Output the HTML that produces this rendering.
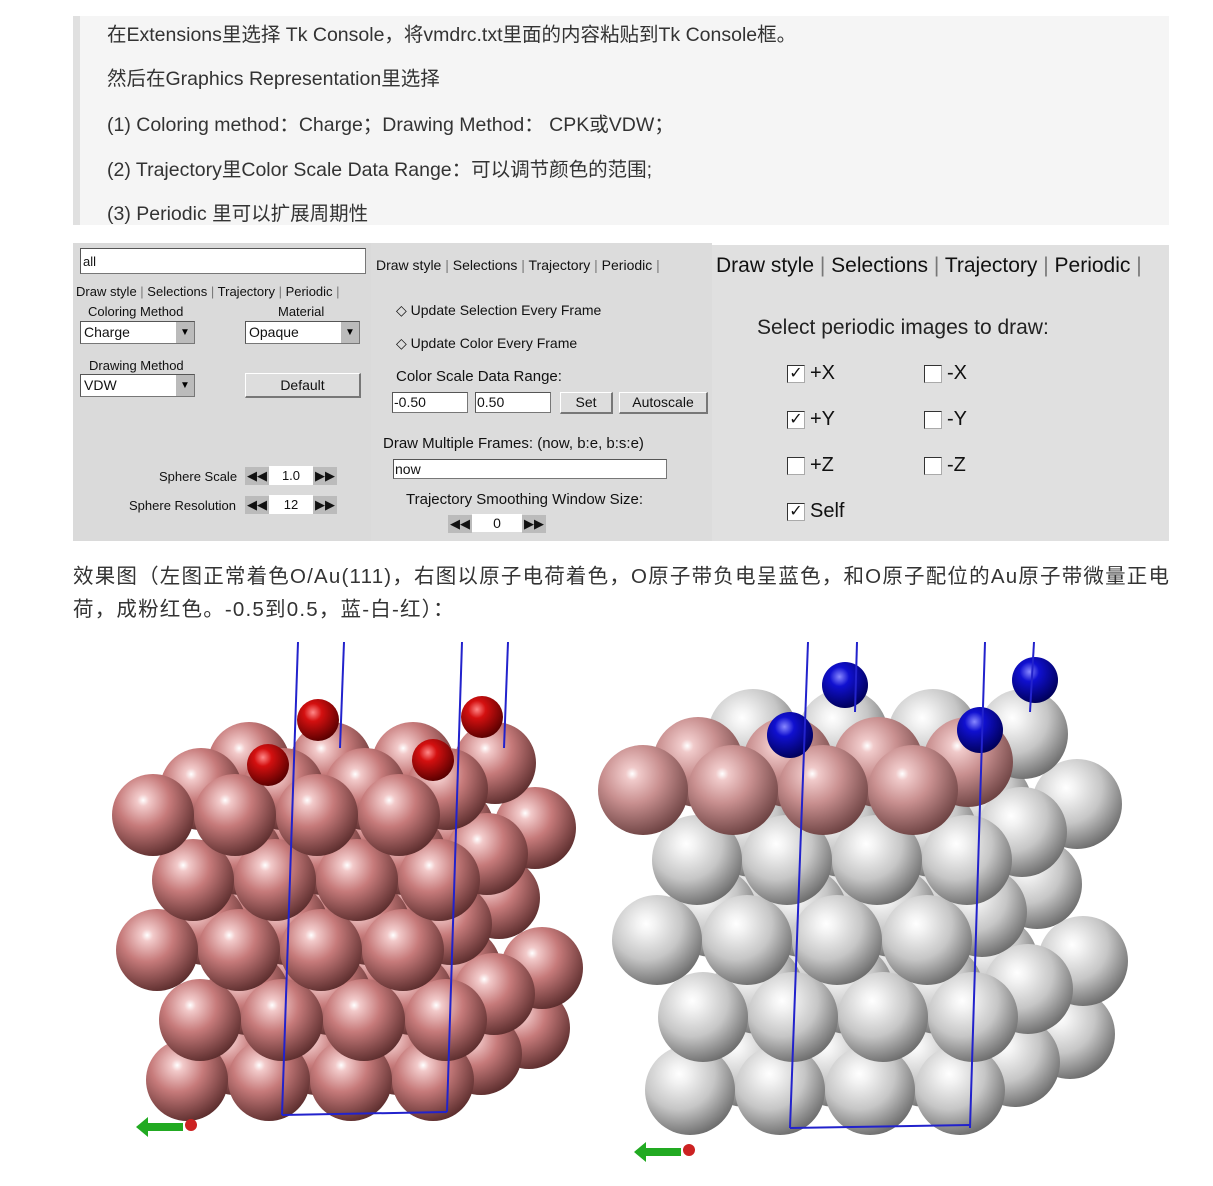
<!DOCTYPE html>
<html><head><meta charset="utf-8">
<style>
body{margin:0;width:1213px;height:1186px;background:#fff;position:relative;overflow:hidden;font-family:"Liberation Sans","Noto Sans CJK SC",sans-serif;}
.a{position:absolute;white-space:nowrap;}
.q{font-size:19.5px;color:#333;left:107px;}
.g{font-family:"Liberation Sans",sans-serif;color:#111;}
.box{position:absolute;background:#fff;border:1px solid #777;border-top-color:#555;border-left-color:#555;}
.btn{position:absolute;background:#ddd;border-right:2px solid #777;border-bottom:2px solid #777;border-top:1px solid #fff;border-left:1px solid #fff;text-align:center;font-size:14px;}
.cb{position:absolute;width:16px;height:16px;background:#fff;border:1px solid #333;border-right-color:#aaa;border-bottom-color:#aaa;font-size:16px;line-height:15px;text-align:center;}
.sp{background:#bbb;display:inline-block;padding:1px 2px;font-size:13px;}
</style></head><body>
<div class="a" style="left:73px;top:16px;width:1096px;height:209px;background:#f5f5f5;"></div>
<div class="a" style="left:73px;top:16px;width:7px;height:209px;background:#e0e0e0;"></div>
<div class="a q" style="top:18px;">在Extensions里选择 Tk Console，将vmdrc.txt里面的内容粘贴到Tk Console框。</div>
<div class="a q" style="top:62px;">然后在Graphics Representation里选择</div>
<div class="a q" style="top:108px;">(1) Coloring method：Charge；Drawing Method： CPK或VDW；</div>
<div class="a q" style="top:153px;">(2) Trajectory里Color Scale Data Range：可以调节颜色的范围;</div>
<div class="a q" style="top:197px;">(3) Periodic 里可以扩展周期性</div>

<div class="a" style="left:73px;top:243px;width:298px;height:298px;background:#dadada;"></div>
<div class="a" style="left:371px;top:243px;width:341px;height:298px;background:#dcdcdc;"></div>
<div class="a" style="left:712px;top:245px;width:457px;height:296px;background:#e0e0e0;"></div>

<div class="box" style="left:80px;top:248px;width:284px;height:24px;"><span class="g" style="font-size:13px;position:absolute;left:2px;top:5px;">all</span></div>
<div class="a g" style="left:76px;top:284px;font-size:13px;">Draw style <span style="color:#777">|</span> Selections <span style="color:#777">|</span> Trajectory <span style="color:#777">|</span> Periodic <span style="color:#777">|</span></div>
<div class="a g" style="left:88px;top:304px;font-size:13px;">Coloring Method</div>
<div class="a g" style="left:278px;top:304px;font-size:13px;">Material</div>
<div class="box" style="left:80px;top:321px;width:113px;height:21px;"><span class="g" style="font-size:14px;position:absolute;left:3px;top:2px;">Charge</span><span style="position:absolute;right:0;top:0;width:18px;height:21px;background:#bbb;font-size:10px;text-align:center;line-height:21px;">▼</span></div>
<div class="box" style="left:245px;top:321px;width:113px;height:21px;"><span class="g" style="font-size:14px;position:absolute;left:3px;top:2px;">Opaque</span><span style="position:absolute;right:0;top:0;width:18px;height:21px;background:#bbb;font-size:10px;text-align:center;line-height:21px;">▼</span></div>
<div class="a g" style="left:89px;top:358px;font-size:13px;">Drawing Method</div>
<div class="box" style="left:80px;top:374px;width:113px;height:21px;"><span class="g" style="font-size:14px;position:absolute;left:3px;top:2px;">VDW</span><span style="position:absolute;right:0;top:0;width:18px;height:21px;background:#bbb;font-size:10px;text-align:center;line-height:21px;">▼</span></div>
<div class="btn g" style="left:245px;top:373px;width:113px;height:22px;line-height:22px;">Default</div>
<div class="a g" style="left:159px;top:469px;font-size:13px;">Sphere Scale</div>
<div class="a g" style="left:245px;top:466px;font-size:13px;"><span class="sp">◀◀</span><span style="background:#fff;display:inline-block;width:44px;text-align:center;padding:2px 0;">1.0</span><span class="sp">▶▶</span></div>
<div class="a g" style="left:129px;top:498px;font-size:13px;">Sphere Resolution</div>
<div class="a g" style="left:245px;top:495px;font-size:13px;"><span class="sp">◀◀</span><span style="background:#fff;display:inline-block;width:44px;text-align:center;padding:2px 0;">12</span><span class="sp">▶▶</span></div>

<div class="a g" style="left:376px;top:257px;font-size:14px;">Draw style <span style="color:#777">|</span> Selections <span style="color:#777">|</span> Trajectory <span style="color:#777">|</span> Periodic <span style="color:#777">|</span></div>
<div class="a g" style="left:396px;top:302px;font-size:14px;">◇ Update Selection Every Frame</div>
<div class="a g" style="left:396px;top:335px;font-size:14px;">◇ Update Color Every Frame</div>
<div class="a g" style="left:396px;top:368px;font-size:15px;">Color Scale Data Range:</div>
<div class="box" style="left:392px;top:392px;width:74px;height:19px;"><span class="g" style="font-size:14px;position:absolute;left:1px;top:1px;">-0.50</span></div>
<div class="box" style="left:475px;top:392px;width:74px;height:19px;"><span class="g" style="font-size:14px;position:absolute;left:1px;top:1px;">0.50</span></div>
<div class="btn g" style="left:560px;top:392px;width:50px;height:19px;line-height:19px;">Set</div>
<div class="btn g" style="left:619px;top:392px;width:86px;height:19px;line-height:19px;">Autoscale</div>
<div class="a g" style="left:383px;top:435px;font-size:15px;">Draw Multiple Frames: (now, b:e, b:s:e)</div>
<div class="box" style="left:393px;top:459px;width:272px;height:18px;"><span class="g" style="font-size:14px;position:absolute;left:1px;top:1px;">now</span></div>
<div class="a g" style="left:406px;top:491px;font-size:15px;">Trajectory Smoothing Window Size:</div>
<div class="a g" style="left:448px;top:514px;font-size:14px;"><span class="sp">◀◀</span><span style="background:#fff;display:inline-block;width:50px;text-align:center;padding:1px 0;">0</span><span class="sp">▶▶</span></div>

<div class="a g" style="left:716px;top:254px;font-size:21px;">Draw style <span style="color:#777">|</span> Selections <span style="color:#777">|</span> Trajectory <span style="color:#777">|</span> Periodic <span style="color:#777">|</span></div>
<div class="a g" style="left:757px;top:316px;font-size:21px;color:#222;">Select periodic images to draw:</div>
<div class="cb g" style="left:787px;top:365px;">✓</div><div class="a g" style="left:810px;top:362px;font-size:20px;">+X</div>
<div class="cb g" style="left:924px;top:365px;"></div><div class="a g" style="left:947px;top:362px;font-size:20px;">-X</div>
<div class="cb g" style="left:787px;top:411px;">✓</div><div class="a g" style="left:810px;top:408px;font-size:20px;">+Y</div>
<div class="cb g" style="left:924px;top:411px;"></div><div class="a g" style="left:947px;top:408px;font-size:20px;">-Y</div>
<div class="cb g" style="left:787px;top:457px;"></div><div class="a g" style="left:810px;top:454px;font-size:20px;">+Z</div>
<div class="cb g" style="left:924px;top:457px;"></div><div class="a g" style="left:947px;top:454px;font-size:20px;">-Z</div>
<div class="cb g" style="left:787px;top:503px;">✓</div><div class="a g" style="left:810px;top:500px;font-size:20px;">Self</div>

<div class="a" style="left:73px;top:560px;font-size:20.5px;color:#333;line-height:33px;letter-spacing:1.2px;">效果图（左图正常着色O/Au(111)，右图以原子电荷着色，O原子带负电呈蓝色，和O原子配位的Au原子带微量正电<br>荷，成粉红色。-0.5到0.5，蓝-白-红）：</div>

<svg id="mol" width="1213" height="1186" style="position:absolute;left:0;top:0;pointer-events:none">
<defs>
<radialGradient id="pk" cx="0.38" cy="0.32" r="0.72"><stop offset="0" stop-color="#fff"/><stop offset="0.1" stop-color="#f2caca"/><stop offset="0.45" stop-color="#c67a7a"/><stop offset="1" stop-color="#5a2c2c"/></radialGradient>
<radialGradient id="lp" cx="0.38" cy="0.32" r="0.72"><stop offset="0" stop-color="#fff"/><stop offset="0.1" stop-color="#f0caca"/><stop offset="0.45" stop-color="#c99090"/><stop offset="1" stop-color="#6a4040"/></radialGradient>
<radialGradient id="gy" cx="0.38" cy="0.32" r="0.72"><stop offset="0" stop-color="#fff"/><stop offset="0.15" stop-color="#f2f2f2"/><stop offset="0.55" stop-color="#c6c6c6"/><stop offset="1" stop-color="#6a6a6a"/></radialGradient>
<radialGradient id="rd" cx="0.38" cy="0.32" r="0.7"><stop offset="0" stop-color="#f88"/><stop offset="0.3" stop-color="#d41010"/><stop offset="1" stop-color="#5a0000"/></radialGradient>
<radialGradient id="bl" cx="0.38" cy="0.32" r="0.7"><stop offset="0" stop-color="#88f"/><stop offset="0.3" stop-color="#1010d0"/><stop offset="1" stop-color="#00005a"/></radialGradient>
</defs>
</svg>
<script>
const NS='http://www.w3.org/2000/svg';
const svg=document.getElementById('mol');
const leftRowY=[815,880,950,1020,1080];
const leftRowX=[153,193,157,200,187];
const rightRowY=[790,860,940,1017,1090];
const rightRowX=[643,697,657,703,690];
const leftO=[[318,720],[482,717],[268,765],[433,760]];
const rightO=[[845,685],[1035,680],[790,735],[980,730]];
function sph(cx,cy,r,fill,name){
  const c=document.createElementNS(NS,'circle');
  c.setAttribute('cx',cx);c.setAttribute('cy',cy);c.setAttribute('r',r);c.setAttribute('fill','url(#'+fill+')');
  
  
  svg.appendChild(c);
}
function slab2(rowY,rowX,sp,r,dx,dy,colorFn,prefix){
  for(let ri=rowY.length-1;ri>=0;ri--){
    for(let d=2;d>=0;d--){
      for(let c=0;c<4;c++){
        sph(rowX[ri]+c*sp+d*dx,rowY[ri]-d*dy,r,colorFn(ri,d),prefix+'-atom');
      }
    }
  }
}
slab2(leftRowY,leftRowX,82,41,48,26,()=> 'pk','left-au');
leftO.forEach(p=>sph(p[0],p[1],21,'rd','left-o-atom'));
slab2(rightRowY,rightRowX,90,45,55,28,(ri,d)=> ri===0?(d===2?'gy':'lp'):'gy','right-au');
rightO.forEach(p=>sph(p[0],p[1],23,'bl','right-o-atom'));
function line(x1,y1,x2,y2,name){
  const l=document.createElementNS(NS,'line');
  l.setAttribute('x1',x1);l.setAttribute('y1',y1);l.setAttribute('x2',x2);l.setAttribute('y2',y2);
  l.setAttribute('stroke','#2222cc');l.setAttribute('stroke-width','2');
  
  
  svg.appendChild(l);
}
line(298,642,282,1115,'cell-edge');line(462,642,447,1112,'cell-edge');line(344,642,340,748,'cell-edge');line(508,642,504,748,'cell-edge');line(282,1115,447,1112,'cell-edge');
line(808,642,790,1128,'cell-edge');line(985,642,970,1128,'cell-edge');line(857,642,855,712,'cell-edge');line(1034,642,1030,712,'cell-edge');line(790,1128,970,1125,'cell-edge');
function axes(x,y,pre){
  const g=document.createElementNS(NS,'path');
  g.setAttribute('d',`M${x} ${y} l12 -10 v6 h35 v8 h-35 v6 z`);
  g.setAttribute('fill','#22aa22');
  
  
  svg.appendChild(g);
  const r=document.createElementNS(NS,'circle');
  r.setAttribute('cx',x+55);r.setAttribute('cy',y-2);r.setAttribute('r',6);r.setAttribute('fill','#cc2222');
  
  
  svg.appendChild(r);
}
axes(136,1127,'left');axes(634,1152,'right');
</script>
</body></html>
